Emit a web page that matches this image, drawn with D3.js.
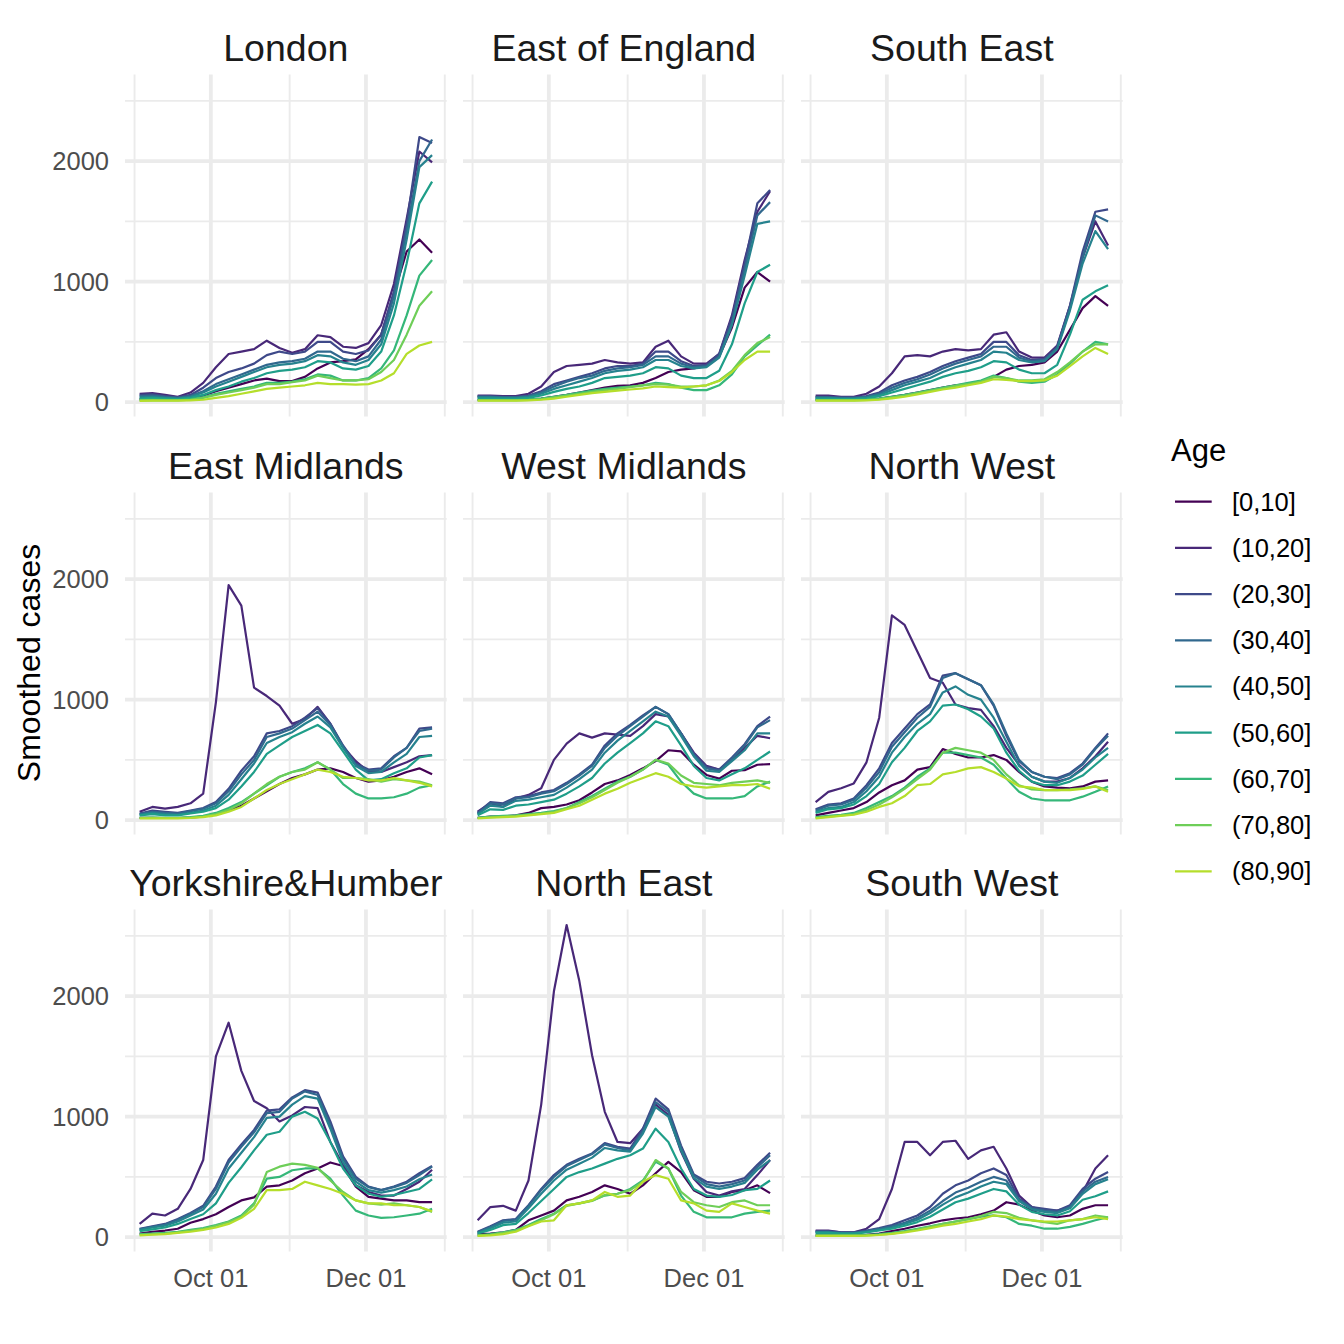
<!DOCTYPE html>
<html>
<head>
<meta charset="utf-8">
<script src="https://cdn.jsdelivr.net/npm/d3@7"></script>
<style>
  body { margin: 0; background: #fff; }
  svg text { font-family: "Liberation Sans", Arial, Helvetica, sans-serif; }
</style>
</head>
<body>
<div id="chart"></div>
<script>
// facet order, left to right, top to bottom
const regions = ["London", "East of England", "South East",
                 "East Midlands", "West Midlands", "North West",
                 "Yorkshire&Humber", "North East", "South West"];

const ageGroups = ["[0,10]", "(10,20]", "(20,30]", "(30,40]", "(40,50]",
                   "(50,60]", "(60,70]", "(70,80]", "(80,90]"];

// one reading every 5 days
const sampleDates = ["2020-09-03", "2020-09-08", "2020-09-13", "2020-09-18", "2020-09-23", "2020-09-28",
                     "2020-10-03", "2020-10-08", "2020-10-13", "2020-10-18", "2020-10-23", "2020-10-28",
                     "2020-11-02", "2020-11-07", "2020-11-12", "2020-11-17", "2020-11-22", "2020-11-27",
                     "2020-12-02", "2020-12-07", "2020-12-12", "2020-12-17", "2020-12-22", "2020-12-27"];

// smoothed cases, one row per age group
const casesLondon = [
  [25, 30, 25, 25, 35, 55, 90, 120, 150, 180, 195, 175, 175, 210, 280, 330, 340, 355, 440, 560, 900, 1250, 1350, 1240],
  [70, 75, 60, 45, 80, 160, 290, 400, 420, 440, 510, 450, 410, 440, 555, 540, 460, 450, 490, 640, 980, 1520, 2080, 1990],
  [60, 65, 50, 40, 60, 120, 200, 250, 280, 320, 390, 420, 400, 420, 500, 500, 420, 400, 430, 560, 920, 1480, 2200, 2150],
  [50, 55, 45, 35, 50, 90, 150, 190, 230, 270, 310, 330, 340, 360, 420, 420, 360, 340, 380, 520, 880, 1420, 2000, 2180],
  [40, 45, 35, 30, 45, 80, 130, 170, 210, 250, 290, 310, 320, 340, 390, 380, 330, 310, 350, 480, 820, 1350, 1950, 2050],
  [30, 35, 30, 25, 35, 60, 100, 130, 170, 200, 240, 260, 270, 290, 340, 330, 280, 270, 300, 420, 720, 1150, 1650, 1830],
  [20, 22, 20, 18, 25, 40, 70, 90, 110, 130, 160, 160, 170, 190, 230, 220, 180, 180, 200, 280, 430, 720, 1050, 1180],
  [15, 17, 15, 15, 20, 35, 60, 80, 100, 120, 150, 150, 165, 180, 220, 200, 180, 180, 190, 250, 350, 560, 800, 920],
  [10, 12, 12, 12, 15, 20, 35, 50, 70, 90, 110, 120, 130, 140, 160, 150, 150, 145, 150, 180, 240, 400, 470, 500]
];

const casesEastOfEngland = [
  [20, 20, 18, 18, 22, 30, 45, 60, 80, 100, 120, 135, 140, 160, 200, 250, 270, 280, 300, 380, 620, 950, 1080, 1000],
  [55, 55, 50, 50, 70, 130, 250, 300, 310, 320, 350, 330, 320, 330, 460, 510, 380, 320, 320, 400, 720, 1180, 1580, 1750],
  [50, 50, 45, 45, 55, 90, 150, 180, 210, 240, 280, 300, 300, 320, 420, 420, 340, 300, 310, 400, 700, 1150, 1650, 1760],
  [45, 45, 40, 40, 50, 80, 130, 170, 200, 220, 260, 280, 290, 310, 380, 380, 320, 290, 300, 380, 660, 1100, 1550, 1660],
  [40, 40, 35, 35, 45, 70, 110, 140, 170, 200, 240, 260, 270, 290, 350, 350, 300, 280, 290, 370, 640, 1050, 1480, 1500],
  [30, 30, 28, 28, 35, 55, 85, 110, 130, 160, 200, 210, 220, 240, 290, 280, 220, 200, 200, 260, 480, 820, 1080, 1140],
  [18, 18, 18, 18, 22, 30, 45, 60, 80, 95, 110, 120, 130, 140, 160, 150, 120, 100, 100, 140, 230, 380, 470, 560],
  [15, 15, 15, 15, 18, 25, 40, 55, 70, 85, 100, 110, 125, 140, 150, 145, 130, 130, 140, 180, 260, 390, 490, 540],
  [12, 12, 12, 12, 15, 20, 30, 45, 60, 75, 85, 95, 105, 115, 130, 125, 120, 130, 140, 175, 250, 350, 420, 420]
];

const casesSouthEast = [
  [20, 20, 18, 18, 22, 30, 45, 60, 80, 100, 120, 140, 150, 170, 210, 270, 300, 310, 330, 420, 600, 780, 880, 800],
  [55, 55, 45, 45, 70, 130, 240, 380, 390, 380, 420, 440, 430, 440, 560, 580, 420, 370, 370, 470, 800, 1200, 1500, 1300],
  [45, 45, 40, 40, 50, 80, 140, 180, 210, 250, 300, 340, 370, 400, 500, 500, 390, 350, 360, 460, 800, 1250, 1580, 1600],
  [40, 40, 35, 35, 45, 70, 120, 160, 190, 230, 280, 320, 350, 380, 460, 460, 370, 340, 350, 450, 780, 1200, 1550, 1500],
  [35, 35, 30, 30, 40, 60, 100, 140, 170, 200, 250, 290, 320, 350, 420, 410, 350, 330, 340, 440, 760, 1150, 1420, 1270],
  [28, 28, 25, 25, 32, 50, 80, 110, 140, 170, 210, 240, 260, 290, 340, 330, 270, 240, 240, 310, 560, 850, 920, 970],
  [18, 18, 18, 18, 22, 30, 45, 60, 80, 100, 120, 140, 160, 180, 220, 200, 170, 160, 170, 230, 320, 420, 500, 480],
  [15, 15, 15, 15, 18, 25, 40, 55, 75, 95, 115, 135, 150, 170, 210, 200, 180, 180, 190, 250, 330, 420, 480, 480],
  [12, 12, 12, 12, 15, 20, 32, 45, 65, 85, 105, 120, 140, 160, 190, 185, 175, 175, 180, 220, 300, 380, 450, 400]
];

const casesEastMidlands = [
  [20, 20, 18, 18, 22, 30, 50, 80, 120, 180, 240, 300, 350, 380, 420, 430, 400, 350, 320, 330, 360, 400, 430, 380],
  [70, 110, 95, 110, 140, 220, 980, 1950, 1780, 1100, 1030, 950, 800, 840, 940, 800, 610, 490, 400, 400, 440, 480, 530, 540],
  [55, 80, 70, 60, 80, 100, 150, 260, 410, 530, 720, 740, 780, 850, 930, 800, 620, 470, 420, 430, 530, 600, 760, 770],
  [50, 70, 60, 55, 75, 95, 140, 240, 380, 500, 690, 720, 760, 830, 900, 790, 610, 460, 410, 420, 520, 600, 740, 760],
  [45, 60, 50, 45, 60, 80, 120, 210, 340, 470, 640, 690, 730, 800, 860, 770, 600, 450, 390, 400, 480, 550, 690, 700],
  [40, 50, 40, 40, 55, 70, 100, 170, 280, 400, 550, 620, 690, 740, 790, 720, 570, 420, 330, 340, 390, 430, 520, 540],
  [20, 22, 20, 20, 25, 35, 60, 100, 150, 220, 290, 360, 400, 430, 480, 420, 300, 220, 180, 180, 190, 220, 270, 290],
  [18, 20, 18, 18, 22, 30, 50, 85, 140, 220, 300, 360, 400, 420, 480, 420, 350, 350, 340, 320, 340, 330, 320, 290],
  [15, 15, 15, 15, 18, 25, 40, 70, 110, 180, 250, 300, 340, 380, 420, 400, 360, 350, 330, 330, 350, 330, 310, 280]
];

const casesWestMidlands = [
  [20, 30, 30, 40, 60, 100, 110, 130, 165, 230, 300, 330, 375, 430, 490, 580, 570, 460, 375, 345, 410, 415, 460, 465],
  [70, 140, 110, 180, 210, 265, 500, 635, 720, 685, 720, 710, 700, 780, 880, 860, 720, 560, 450, 420, 500, 600, 700, 680],
  [60, 150, 140, 190, 200, 230, 250, 310, 380, 460, 620, 720, 790, 870, 940, 880, 720, 550, 440, 420, 520, 630, 780, 860],
  [55, 140, 130, 180, 190, 220, 240, 300, 370, 450, 600, 700, 780, 860, 940, 880, 720, 540, 430, 410, 510, 620, 770, 830],
  [50, 120, 110, 160, 170, 190, 210, 270, 340, 420, 560, 660, 740, 820, 900, 860, 700, 530, 410, 400, 490, 580, 720, 720],
  [40, 90, 85, 120, 130, 150, 170, 220, 280, 350, 470, 560, 640, 720, 820, 780, 620, 450, 350, 330, 380, 430, 500, 570],
  [20, 30, 35, 40, 50, 60, 75, 100, 150, 200, 260, 320, 360, 420, 500, 460, 320, 220, 180, 180, 180, 200, 280, 320],
  [18, 25, 30, 35, 45, 55, 70, 100, 140, 190, 250, 310, 360, 420, 500, 470, 370, 310, 300, 290, 310, 320, 330, 310],
  [15, 20, 25, 30, 40, 50, 60, 90, 120, 170, 220, 260, 310, 350, 390, 360, 300, 280, 270, 280, 290, 290, 300, 260]
];

const casesNorthWest = [
  [40, 60, 80, 100, 150, 230, 290, 330, 420, 440, 590, 550, 520, 520, 540, 500, 400, 320, 280, 270, 265, 280, 320, 330],
  [150, 235, 265, 305, 480, 850, 1700, 1620, 1400, 1180, 1140, 960, 930, 915, 780, 600, 460, 360, 320, 320, 350, 430, 530, 650],
  [90, 130, 140, 180, 290, 430, 640, 760, 880, 960, 1200, 1220, 1170, 1120, 950, 700, 490, 400, 360, 350, 390, 470, 600, 720],
  [80, 120, 130, 170, 270, 400, 610, 730, 850, 940, 1180, 1220, 1170, 1120, 960, 720, 500, 400, 360, 340, 380, 460, 590, 700],
  [70, 100, 110, 150, 240, 360, 560, 690, 800, 880, 1060, 1110, 1040, 1000, 850, 650, 450, 360, 320, 310, 350, 420, 520, 600],
  [60, 90, 100, 130, 200, 300, 480, 600, 740, 820, 950, 960, 920, 860, 760, 560, 410, 320, 290, 290, 320, 370, 460, 550],
  [25, 35, 45, 60, 100, 150, 200, 270, 360, 430, 560, 560, 540, 520, 460, 345, 235, 180, 165, 165, 165, 195, 235, 280],
  [20, 30, 40, 50, 85, 130, 190, 260, 340, 420, 560, 600, 580, 560, 500, 380, 290, 255, 250, 250, 255, 265, 280, 250],
  [15, 25, 35, 45, 70, 110, 140, 200, 290, 300, 380, 400, 430, 440, 400, 345, 280, 270, 250, 250, 250, 260, 280, 235]
];

const casesYorkshireHumber = [
  [30, 45, 55, 70, 120, 150, 190, 250, 305, 330, 420, 430, 470, 530, 570, 620, 590, 420, 335, 320, 305, 305, 290, 290],
  [110, 195, 180, 235, 400, 640, 1500, 1780, 1380, 1130, 1070, 960, 1010, 1080, 1070, 790, 600, 430, 375, 345, 345, 400, 460, 560],
  [70, 90, 110, 150, 200, 260, 420, 640, 770, 890, 1050, 1060, 1160, 1220, 1200, 960, 670, 500, 420, 390, 420, 460, 530, 590],
  [65, 85, 105, 145, 195, 250, 400, 620, 750, 870, 1030, 1040, 1150, 1210, 1180, 930, 650, 485, 415, 390, 415, 450, 515, 585],
  [60, 80, 95, 130, 180, 230, 360, 570, 700, 830, 990, 1000, 1100, 1170, 1150, 900, 620, 460, 390, 370, 390, 420, 480, 520],
  [50, 65, 80, 110, 150, 190, 280, 450, 580, 720, 850, 875, 1000, 1040, 985, 790, 570, 430, 360, 335, 350, 375, 400, 480],
  [25, 30, 35, 45, 60, 75, 100, 130, 180, 280, 485, 500, 555, 570, 570, 485, 345, 220, 180, 160, 165, 180, 195, 235],
  [20, 25, 30, 40, 55, 70, 95, 125, 170, 270, 540, 585, 610, 600, 575, 470, 375, 305, 280, 270, 280, 265, 250, 210],
  [15, 20, 25, 35, 45, 60, 80, 110, 160, 235, 390, 390, 400, 460, 430, 400, 360, 305, 280, 280, 265, 265, 250, 215]
];

const casesNorthEast = [
  [25, 30, 40, 60, 140, 180, 220, 305, 335, 375, 430, 400, 360, 430, 530, 625, 540, 390, 335, 335, 375, 390, 430, 365],
  [140, 250, 260, 220, 470, 1100, 2040, 2590, 2125, 1510, 1040, 790, 780, 900, 1100, 1015, 710, 485, 375, 345, 380, 400, 515, 640],
  [45, 90, 140, 150, 265, 400, 515, 600, 650, 695, 780, 750, 735, 900, 1150, 1060, 760, 520, 460, 445, 460, 490, 600, 700],
  [40, 85, 135, 145, 260, 390, 500, 590, 640, 690, 770, 740, 720, 880, 1120, 1040, 740, 510, 440, 420, 440, 470, 580, 680],
  [35, 75, 120, 130, 240, 360, 470, 560, 610, 660, 740, 720, 710, 860, 1080, 1000, 720, 490, 420, 400, 420, 450, 560, 640],
  [30, 60, 100, 110, 200, 300, 400, 500, 540, 570, 610, 650, 680, 735, 900, 790, 570, 400, 345, 335, 350, 390, 400, 470],
  [15, 25, 40, 60, 100, 150, 195, 265, 280, 305, 345, 360, 400, 470, 625, 570, 345, 210, 165, 165, 165, 195, 210, 220],
  [12, 20, 35, 55, 95, 140, 190, 260, 280, 300, 350, 360, 390, 460, 640, 570, 375, 290, 265, 250, 290, 305, 265, 265],
  [10, 15, 25, 45, 90, 130, 140, 265, 280, 305, 375, 335, 345, 460, 515, 485, 305, 280, 220, 210, 280, 250, 220, 195]
];

const casesSouthWest = [
  [15, 15, 15, 15, 20, 30, 50, 70, 95, 115, 140, 155, 165, 190, 220, 290, 270, 220, 180, 165, 180, 235, 265, 265],
  [55, 55, 40, 40, 70, 150, 400, 790, 790, 680, 790, 800, 650, 720, 750, 570, 345, 250, 220, 220, 250, 375, 570, 680],
  [50, 50, 40, 40, 55, 75, 100, 140, 180, 250, 360, 430, 470, 530, 570, 515, 320, 250, 235, 220, 265, 400, 485, 540],
  [45, 45, 35, 35, 50, 70, 90, 120, 160, 220, 300, 370, 410, 460, 500, 470, 310, 240, 220, 210, 250, 380, 460, 500],
  [40, 40, 32, 32, 45, 60, 80, 110, 145, 200, 270, 330, 370, 420, 460, 440, 300, 230, 210, 200, 240, 360, 440, 480],
  [35, 35, 30, 30, 40, 55, 70, 95, 125, 170, 230, 290, 320, 360, 400, 380, 270, 210, 190, 180, 215, 310, 340, 380],
  [15, 15, 15, 15, 18, 25, 35, 50, 70, 90, 110, 130, 150, 170, 180, 165, 110, 95, 70, 70, 85, 110, 140, 165],
  [12, 12, 12, 12, 15, 20, 30, 45, 65, 85, 110, 130, 150, 175, 210, 200, 160, 140, 125, 110, 140, 150, 180, 165],
  [10, 10, 10, 10, 12, 18, 28, 40, 55, 75, 95, 110, 130, 150, 180, 170, 150, 140, 130, 130, 140, 150, 165, 150]
];

const casesByRegion = [casesLondon, casesEastOfEngland, casesSouthEast,
                       casesEastMidlands, casesWestMidlands, casesNorthWest,
                       casesYorkshireHumber, casesNorthEast, casesSouthWest];

const yBreaksMajor = [0, 1000, 2000];
const yBreaksMinor = [500, 1500, 2500];
const xBreaksMajor = ["2020-10-01", "2020-12-01"];
const xBreaksMinor = ["2020-09-01", "2020-11-01", "2021-01-01"];

window.Facets = window.Facets || {};

Facets.init = function() {
    Facets.setup.initConsts();
    Facets.setup.initScales();
    Facets.setup.initSvg();

    for (let i = 0; i < regions.length; i++) {
        Facets.core.drawPanel(i);
    }
    Facets.core.drawAxisTitle();
    Facets.core.drawLegend();
};

Facets.setup = {
    initConsts: function() {
        Facets.width = 1344;
        Facets.height = 1344;

        Facets.panelW = 321.7;
        Facets.panelH = 342;
        Facets.colLeft = [125, 463, 801];
        Facets.rowTop = [74.5, 492.5, 909.5];

        Facets.majorWidth = 3.8;
        Facets.minorWidth = 1.9;
        Facets.gridColor = '#EBEBEB';
        Facets.lineWidth = 2.2;
    },

    initScales: function() {
        let parse = d3.timeParse('%Y-%m-%d');
        Facets.dates = sampleDates.map(parse);
        Facets.xMajor = xBreaksMajor.map(parse);
        Facets.xMinor = xBreaksMinor.map(parse);

        // ggplot style 5% expansion
        let ext = d3.extent(Facets.dates);
        let span = ext[1] - ext[0];
        Facets.x = d3.scaleTime()
                     .domain([new Date(+ext[0] - 0.05*span), new Date(+ext[1] + 0.05*span)])
                     .range([0, Facets.panelW]);

        let all = casesByRegion.flat(2);
        let ymin = d3.min(all), ymax = d3.max(all);
        let pad = 0.05 * (ymax - ymin);
        Facets.y = d3.scaleLinear()
                     .domain([ymin - pad, ymax + pad])
                     .range([Facets.panelH, 0]);

        Facets.color = d3.scaleOrdinal()
                         .domain(ageGroups)
                         .range(ageGroups.map((a, i) => d3.interpolateViridis(i / 9)));

        Facets.fmt = d3.timeFormat('%b %d');
    },

    initSvg: function() {
        Facets.svg = d3.select('#chart')
                       .append('svg')
                        .attr('width', Facets.width)
                        .attr('height', Facets.height);
        Facets.svg.append('rect')
                  .attr('width', Facets.width)
                  .attr('height', Facets.height)
                  .attr('fill', '#fff');
    }
};

Facets.core = {
    drawPanel: function(i) {
        let col = i % 3, row = Math.floor(i / 3);
        let x = Facets.x, y = Facets.y;
        let W = Facets.panelW, H = Facets.panelH;

        let g = Facets.svg.append('g')
                          .attr('transform', 'translate(' + Facets.colLeft[col] + ',' + Facets.rowTop[row] + ')');

        // minor grid first, then major
        g.selectAll('.ymin').data(yBreaksMinor).join('line')
            .attr('x1', 0).attr('x2', W)
            .attr('y1', d => y(d)).attr('y2', d => y(d))
            .attr('stroke', Facets.gridColor).attr('stroke-width', Facets.minorWidth);
        g.selectAll('.xmin').data(Facets.xMinor).join('line')
            .attr('x1', d => x(d)).attr('x2', d => x(d))
            .attr('y1', 0).attr('y2', H)
            .attr('stroke', Facets.gridColor).attr('stroke-width', Facets.minorWidth);
        g.selectAll('.ymaj').data(yBreaksMajor).join('line')
            .attr('x1', 0).attr('x2', W)
            .attr('y1', d => y(d)).attr('y2', d => y(d))
            .attr('stroke', Facets.gridColor).attr('stroke-width', Facets.majorWidth);
        g.selectAll('.xmaj').data(Facets.xMajor).join('line')
            .attr('x1', d => x(d)).attr('x2', d => x(d))
            .attr('y1', 0).attr('y2', H)
            .attr('stroke', Facets.gridColor).attr('stroke-width', Facets.majorWidth);

        let line = d3.line()
                     .x((d, k) => x(Facets.dates[k]))
                     .y(d => y(d));

        g.selectAll('.series').data(casesByRegion[i]).join('path')
            .attr('d', line)
            .attr('fill', 'none')
            .attr('stroke', (d, k) => Facets.color(ageGroups[k]))
            .attr('stroke-width', Facets.lineWidth)
            .attr('stroke-linejoin', 'round');

        // strip title
        g.append('text')
            .attr('x', W / 2).attr('y', -14)
            .attr('text-anchor', 'middle')
            .attr('font-size', 37.5)
            .attr('fill', '#1A1A1A')
            .text(regions[i]);

        if (col === 0) {
            g.selectAll('.ylab').data(yBreaksMajor).join('text')
                .attr('x', -16).attr('y', d => y(d))
                .attr('dy', '0.35em')
                .attr('text-anchor', 'end')
                .attr('font-size', 25.5)
                .attr('fill', '#4D4D4D')
                .text(d => d);
        }
        if (row === 2) {
            g.selectAll('.xlab').data(Facets.xMajor).join('text')
                .attr('x', d => x(d)).attr('y', H + 35)
                .attr('text-anchor', 'middle')
                .attr('font-size', 25.5)
                .attr('fill', '#4D4D4D')
                .text(d => Facets.fmt(d));
        }
    },

    drawAxisTitle: function() {
        Facets.svg.append('text')
            .attr('transform', 'translate(40,663) rotate(-90)')
            .attr('text-anchor', 'middle')
            .attr('font-size', 32)
            .attr('fill', '#000')
            .text('Smoothed cases');
    },

    drawLegend: function() {
        let lg = Facets.svg.append('g').attr('transform', 'translate(1171,0)');
        lg.append('text')
            .attr('x', 0).attr('y', 461)
            .attr('font-size', 31)
            .attr('fill', '#000')
            .text('Age');

        let items = lg.selectAll('.key').data(ageGroups).join('g')
                      .attr('transform', (d, i) => 'translate(0,' + (501.7 + i * 46.2) + ')');
        items.append('line')
            .attr('x1', 4).attr('x2', 40.7)
            .attr('stroke', d => Facets.color(d))
            .attr('stroke-width', Facets.lineWidth);
        items.append('text')
            .attr('x', 61).attr('dy', '0.35em')
            .attr('font-size', 25.5)
            .attr('fill', '#000')
            .text(d => d);
    }
};

document.addEventListener('DOMContentLoaded', Facets.init);
</script>
</body>
</html>
